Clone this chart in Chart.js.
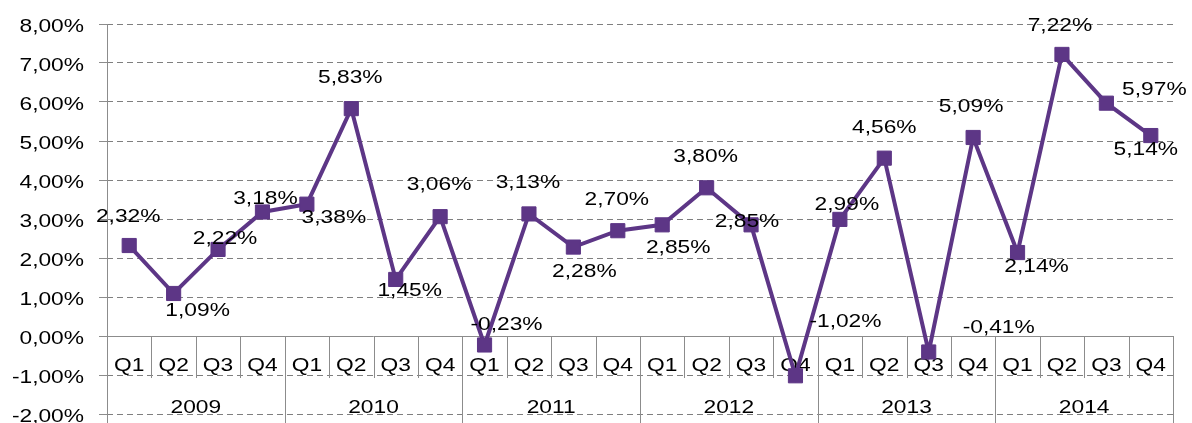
<!DOCTYPE html>
<html lang="pt">
<head>
    <meta charset="UTF-8">
    <title>Variação trimestral 2009-2014</title>
    <script src="https://cdn.jsdelivr.net/npm/chart.js"></script>
    <style>
        body {
            margin: 0;
            padding: 0;
            background: #fff;
        }
        .chart-box {
            width: 1192px;
            height: 423px;
        }
    </style>
</head>
<body>

    <div class="chart-box">
        <canvas id="growthChart" width="1192" height="423"></canvas>
    </div>

    <script>
        // data
        const years = ['2009', '2010', '2011', '2012', '2013', '2014'];
        const quarters = ['Q1', 'Q2', 'Q3', 'Q4'];
        const growth = [
            2.32, 1.09, 2.22, 3.18,
            3.38, 5.83, 1.45, 3.06,
            -0.23, 3.13, 2.28, 2.70,
            2.85, 3.80, 2.85, -1.02,
            2.99, 4.56, -0.41, 5.09,
            2.14, 7.22, 5.97, 5.14
        ];
        const yTicks = [-2, -1, 0, 1, 2, 3, 4, 5, 6, 7, 8];

        // where each value label sits relative to its point (dx, dy in px)
        const labelOffsets = [
            [-1, -29], [24, 17], [7, -11], [3, -13],
            [27, 14], [-1, -31], [14, 11], [-1, -32],
            [22, -20], [-1, -31], [11, 25], [-1, -31],
            [16, 23], [-1, -31], [-4, -3], [50, -54],
            [7, -14], [0, -30], [70, -24], [-2, -31],
            [19, 14], [-2, -29], [48, -13], [-5, 14]
        ];

        const labels = [];
        years.forEach(y => quarters.forEach(q => labels.push(y + ' ' + q)));

        const purple = '#5d3686';
        const axisGray = '#8c8c8c';
        const FONT = '18.5px "Liberation Sans", Arial, sans-serif';
        const STRETCH = 1.23;

        const fmt = v => v.toFixed(2).replace('.', ',') + '%';

        // the picture is stretched sideways, so the text is too
        function wideText(ctx, text, x, y, align) {
            ctx.save();
            ctx.translate(x, y);
            ctx.scale(STRETCH, 1);
            ctx.textAlign = align;
            ctx.textBaseline = 'middle';
            ctx.fillText(text, 0, 0);
            ctx.restore();
        }

        const axisTable = {
            id: 'axisTable',
            beforeDatasetsDraw(chart) {
                const ctx = chart.ctx;
                const xs = chart.scales.x;
                const ys = chart.scales.y;
                const area = chart.chartArea;
                const zero = ys.getPixelForValue(0);
                const step = (area.right - area.left) / labels.length;
                const H = chart.height;

                ctx.save();
                ctx.strokeStyle = axisGray;
                ctx.lineWidth = 1;
                ctx.beginPath();
                // value axis
                ctx.moveTo(area.left + 0.5, area.top);
                ctx.lineTo(area.left + 0.5, H);
                // category axis at zero
                ctx.moveTo(area.left, Math.round(zero) + 0.5);
                ctx.lineTo(area.right, Math.round(zero) + 0.5);
                for (let i = 1; i <= labels.length; i++) {
                    const x = Math.round(area.left + i * step) + 0.5;
                    const bottom = (i % 4 === 0) ? H : zero + 42;
                    ctx.moveTo(x, zero);
                    ctx.lineTo(x, bottom);
                }
                ctx.stroke();

                ctx.fillStyle = '#000';
                ctx.font = FONT;
                labels.forEach((l, i) => {
                    wideText(ctx, quarters[i % 4], xs.getPixelForValue(i), zero + 30, 'center');
                });
                years.forEach((y, k) => {
                    const mid = (xs.getPixelForValue(k * 4) + xs.getPixelForValue(k * 4 + 3)) / 2;
                    wideText(ctx, y, mid, zero + 72, 'center');
                });
                yTicks.forEach(t => {
                    wideText(ctx, fmt(t), area.left - 23, ys.getPixelForValue(t) + 2.5, 'right');
                });
                ctx.restore();
            },
            afterDatasetsDraw(chart) {
                const ctx = chart.ctx;
                const meta = chart.getDatasetMeta(0);
                ctx.save();
                ctx.fillStyle = '#000';
                ctx.font = FONT;
                meta.data.forEach((pt, i) => {
                    const off = labelOffsets[i];
                    wideText(ctx, fmt(growth[i]), pt.x + off[0], pt.y + off[1], 'center');
                });
                ctx.restore();
            }
        };

        const ctx = document.getElementById('growthChart').getContext('2d');

        const growthChart = new Chart(ctx, {
            type: 'line',
            data: {
                labels: labels,
                datasets: [{
                    data: growth,
                    borderColor: purple,
                    backgroundColor: purple,
                    borderWidth: 4,
                    tension: 0,
                    pointStyle: 'rect',
                    pointRadius: 10,
                    pointBorderWidth: 1,
                    pointBackgroundColor: purple,
                    pointBorderColor: purple,
                    clip: false
                }]
            },
            options: {
                responsive: false,
                animation: false,
                devicePixelRatio: 1,
                layout: {
                    autoPadding: false,
                    padding: { left: 99, right: 19, top: 24, bottom: 9 }
                },
                plugins: {
                    legend: { display: false },
                    tooltip: { enabled: false }
                },
                scales: {
                    x: {
                        type: 'category',
                        display: false,
                        offset: true
                    },
                    y: {
                        min: -2,
                        max: 8,
                        ticks: { stepSize: 1, display: false },
                        grid: {
                            color: '#7f7f7f',
                            lineWidth: 1,
                            drawTicks: true,
                            tickLength: 8,
                            tickColor: axisGray
                        },
                        border: { display: false, dash: [6, 4] },
                        afterFit: scale => { scale.width = 8; }
                    }
                }
            },
            plugins: [axisTable]
        });
    </script>

</body>
</html>
